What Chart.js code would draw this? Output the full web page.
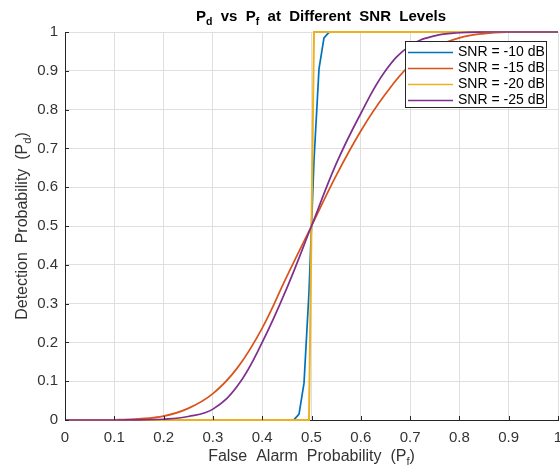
<!DOCTYPE html>
<html>
<head>
<meta charset="utf-8">
<script src="https://cdn.jsdelivr.net/npm/chart.js@4.4.1/dist/chart.umd.min.js"></script>
<style>
  html, body { margin: 0; padding: 0; background: #fff; }
  #wrap { width: 560px; height: 465px; }
</style>
</head>
<body>
<div id="wrap"><canvas id="pdChart" width="560" height="465"></canvas></div>
<script>
// ---- data ----
const seriesLabels = ["SNR = -10 dB", "SNR = -15 dB", "SNR = -20 dB", "SNR = -25 dB"];
const seriesColors = ["#0072BD", "#D95319", "#EDB120", "#7E2F8E"];

// steep curves (sampled every ~0.0101)
const pfBlue = [0, 0.4545, 0.4646, 0.4747, 0.4848, 0.4949, 0.5051, 0.5152, 0.5253, 0.5354, 0.5455, 1];
const pdBlue = [0, 0, 0.001, 0.015, 0.095, 0.33, 0.67, 0.905, 0.985, 0.999, 1, 1];
const pfYellow = [0, 0.4949, 0.5051, 1];
const pdYellow = [0, 0, 1, 1];

// smooth curves
const pfSmooth = [0, 0.05, 0.1, 0.15, 0.2, 0.25, 0.3, 0.35, 0.4, 0.45, 0.5, 0.55, 0.6, 0.65, 0.7, 0.75, 0.8, 0.85, 0.9, 0.95, 1];
const pdOrange = [0, 0, 0.0005, 0.003, 0.01, 0.03, 0.068, 0.135, 0.237, 0.37, 0.5, 0.63, 0.745, 0.84, 0.915, 0.96, 0.985, 0.996, 1, 1, 1];
const pdPurple = [0, 0, 0, 0.0005, 0.002, 0.009, 0.028, 0.088, 0.2, 0.34, 0.5, 0.66, 0.79, 0.9, 0.965, 0.99, 0.998, 1, 1, 1, 1];

const xTicks = [0, 0.1, 0.2, 0.3, 0.4, 0.5, 0.6, 0.7, 0.8, 0.9, 1];
const yTicks = [0, 0.1, 0.2, 0.3, 0.4, 0.5, 0.6, 0.7, 0.8, 0.9, 1];

const FONT = "'Liberation Sans', Arial, Helvetica, sans-serif";
const AXIS_COLOR = "#262626";

function pts(xs, ys) {
    return xs.map((x, i) => ({ x: x, y: ys[i] }));
}

// text with subscript pieces: parts = [[text, isSub], ...]
function richWidth(ctx, parts, size, weight) {
    let w = 0;
    parts.forEach(p => {
        ctx.font = weight + " " + (p[1] ? size * 0.7 : size) + "px " + FONT;
        w += ctx.measureText(p[0]).width;
    });
    return w;
}
function drawRich(ctx, parts, x, y, size, weight) {
    let cx = x;
    parts.forEach(p => {
        ctx.font = weight + " " + (p[1] ? size * 0.7 : size) + "px " + FONT;
        ctx.fillText(p[0], cx, p[1] ? y + size * 0.25 : y);
        cx += ctx.measureText(p[0]).width;
    });
}

const decorPlugin = {
    id: "decor",
    beforeDraw(chart) {
        const ctx = chart.ctx;
        ctx.save();
        ctx.fillStyle = "#fff";
        ctx.fillRect(0, 0, chart.width, chart.height);
        ctx.restore();
    },
    afterDraw(chart) {
        const ctx = chart.ctx;
        const xs = chart.scales.x, ys = chart.scales.y;
        const area = chart.chartArea;
        ctx.save();

        // inward ticks
        ctx.strokeStyle = AXIS_COLOR;
        ctx.lineWidth = 1;
        ctx.beginPath();
        xTicks.forEach(v => {
            const px = Math.round(xs.getPixelForValue(v)) + 0.5;
            ctx.moveTo(px, area.bottom);
            ctx.lineTo(px, area.bottom - 4);
        });
        yTicks.forEach(v => {
            const py = Math.round(ys.getPixelForValue(v)) + 0.5;
            ctx.moveTo(area.left, py);
            ctx.lineTo(area.left + 4, py);
        });
        ctx.stroke();

        // tick labels
        ctx.fillStyle = "#333";
        ctx.font = "15px " + FONT;
        ctx.textAlign = "center";
        ctx.textBaseline = "top";
        xTicks.forEach(v => {
            ctx.fillText(String(v), xs.getPixelForValue(v), area.bottom + 10);
        });
        ctx.textAlign = "right";
        ctx.textBaseline = "middle";
        yTicks.forEach(v => {
            ctx.fillText(String(v), area.left - 7, ys.getPixelForValue(v));
        });

        // title
        ctx.textAlign = "left";
        ctx.textBaseline = "alphabetic";
        ctx.fillStyle = "#000";
        const title = [["P", false], ["d", true], ["  vs  P", false], ["f", true], ["  at  Different  SNR  Levels", false]];
        const tw = richWidth(ctx, title, 15, "bold");
        drawRich(ctx, title, 321 - tw / 2, 21, 15, "bold");

        // x label
        ctx.fillStyle = "#333";
        const xl = [["False  Alarm  Probability  (P", false], ["f", true], [")", false]];
        const xw = richWidth(ctx, xl, 16, "normal");
        drawRich(ctx, xl, (area.left + area.right) / 2 - xw / 2, 461, 16, "normal");

        // y label
        const yl = [["Detection  Probability  (P", false], ["d", true], [")", false]];
        const yw = richWidth(ctx, yl, 16, "normal");
        ctx.save();
        ctx.translate(27, (area.top + area.bottom) / 2);
        ctx.rotate(-Math.PI / 2);
        drawRich(ctx, yl, -yw / 2, 0, 16, "normal");
        ctx.restore();

        // legend box
        const lx = 405.5, ly = 41.5, lw = 141, lh = 66;
        ctx.fillStyle = "#fff";
        ctx.fillRect(lx, ly, lw, lh);
        ctx.strokeStyle = AXIS_COLOR;
        ctx.lineWidth = 1;
        ctx.strokeRect(lx, ly, lw, lh);
        ctx.font = "14px " + FONT;
        ctx.textBaseline = "middle";
        ctx.textAlign = "left";
        chart.data.datasets.forEach((ds, i) => {
            const ry = 52.5 + i * 16;
            ctx.strokeStyle = ds.borderColor;
            ctx.lineWidth = 1.5;
            ctx.beginPath();
            ctx.moveTo(408, ry);
            ctx.lineTo(453, ry);
            ctx.stroke();
            ctx.fillStyle = "#000";
            ctx.fillText(ds.label, 458, ry);
        });

        ctx.restore();
    }
};

const datasets = [
    { label: seriesLabels[0], data: pts(pfBlue, pdBlue), borderColor: seriesColors[0], order: 3, tension: 0 },
    { label: seriesLabels[1], data: pts(pfSmooth, pdOrange), borderColor: seriesColors[1], order: 2, tension: 0.4 },
    { label: seriesLabels[2], data: pts(pfYellow, pdYellow), borderColor: seriesColors[2], order: 1, tension: 0, borderWidth: 2 },
    { label: seriesLabels[3], data: pts(pfSmooth, pdPurple), borderColor: seriesColors[3], order: 0, tension: 0.4 }
].map(d => Object.assign({ borderWidth: 1.7, pointRadius: 0, fill: false, clip: false }, d));

new Chart(document.getElementById("pdChart"), {
    type: "line",
    data: { datasets: datasets },
    plugins: [decorPlugin],
    options: {
        responsive: false,
        animation: false,
        layout: { padding: { left: 65, right: 2, top: 32, bottom: 45 } },
        plugins: { legend: { display: false }, title: { display: false }, tooltip: { enabled: false } },
        scales: {
            x: {
                type: "linear", min: 0, max: 1,
                ticks: { display: false, stepSize: 0.1 },
                grid: { color: "#dfdfdf", drawTicks: false },
                border: { display: true, color: AXIS_COLOR }
            },
            y: {
                type: "linear", min: 0, max: 1,
                ticks: { display: false, stepSize: 0.1 },
                grid: { color: "#dfdfdf", drawTicks: false },
                border: { display: true, color: AXIS_COLOR }
            }
        }
    }
});
</script>
</body>
</html>
